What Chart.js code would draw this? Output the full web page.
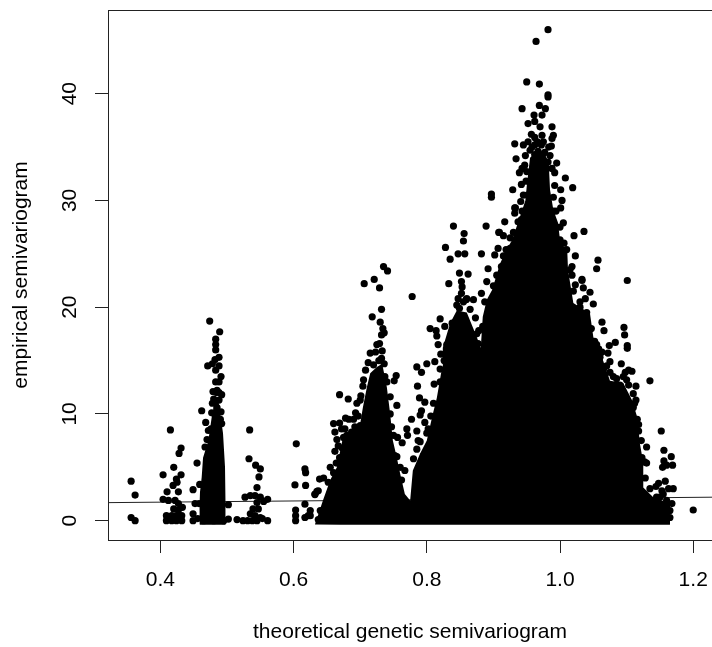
<!DOCTYPE html>
<html>
<head>
<meta charset="utf-8">
<title>semivariogram</title>
<script src="https://cdn.jsdelivr.net/npm/chart.js@4/dist/chart.umd.min.js"></script>
<style>
    html, body { margin: 0; padding: 0; background: #fff; }
    canvas { display: block; }
</style>
</head>
<body>
<canvas id="myChart" width="712" height="647"></canvas>
<script>
const xTicks = [0.4, 0.6, 0.8, 1.0, 1.2];
const yTicks = [0, 10, 20, 30, 40];
const xLabel = 'theoretical genetic semivariogram';
const yLabel = 'empirical semivariogram';

// fitted line, read at both ends of the frame
const lineX = [0.3213, 1.2282];
const lineY = [1.69, 2.2];

// the points overlap into solid black here, so these are read as upper outlines
const hillOutline = [[0.632,-0.35],[0.644,1.9],[0.655,3.8],[0.665,5.0],[0.674,7.8],[0.689,8.5],[0.700,9.1],[0.704,10.6],[0.710,12.5],[0.715,13.8],[0.725,14.4],[0.733,14.7],[0.740,12.5],[0.745,10.0],[0.749,7.5],[0.755,5.9],[0.760,4.4],[0.767,2.5],[0.775,1.9],[0.779,4.7],[0.790,6.3],[0.800,7.5],[0.809,10.0],[0.815,11.5],[0.823,14.4],[0.824,16.2],[0.835,18.5],[0.845,19.7],[0.860,19.5],[0.875,17.2],[0.881,16.2],[0.884,19.1],[0.890,20.7],[0.898,21.6],[0.910,24.1],[0.920,25.4],[0.928,26.3],[0.940,28.5],[0.948,30.0],[0.950,31.3],[0.955,34.0],[0.965,34.6],[0.975,34.6],[0.983,33.6],[0.985,31.0],[0.990,29.1],[0.997,27.9],[1.000,26.3],[1.011,25.1],[1.012,23.5],[1.020,20.4],[1.045,19.4],[1.050,17.2],[1.063,15.3],[1.075,13.1],[1.095,12.9],[1.108,11.3],[1.116,9.7],[1.120,7.2],[1.125,5.4],[1.125,3.1],[1.140,2.2],[1.165,1.6],[1.170,0.3],[1.165,-0.35]];
const spikeOutline = [[0.459,-0.35],[0.458,1.9],[0.462,4.1],[0.464,5.9],[0.472,7.5],[0.477,9.7],[0.482,11.3],[0.487,11.3],[0.494,8.2],[0.497,5.0],[0.498,1.9],[0.498,-0.35]];

const farLeftPts = [[0.356,3.7],[0.362,2.4],[0.356,0.3],[0.362,0.0],[0.415,8.5],[0.431,6.8],[0.428,6.3],[0.420,5.0],[0.404,4.3],[0.431,4.3],[0.424,3.9],[0.419,3.3],[0.425,3.6],[0.410,2.7],[0.427,2.7],[0.404,2.0],[0.412,1.9],[0.422,1.9],[0.427,1.6],[0.433,1.25],[0.409,0.47],[0.409,0.0],[0.417,0.47],[0.417,0.0],[0.424,0.47],[0.424,0.0],[0.432,0.47],[0.432,0.0],[0.420,1.1],[0.427,1.0]];
const spikePts = [[0.474,18.7],[0.489,17.7],[0.483,17.0],[0.483,16.5],[0.483,16.0],[0.488,15.3],[0.482,15.1],[0.488,14.5],[0.471,14.5],[0.478,14.7],[0.483,14.1],[0.491,13.5],[0.488,13.0],[0.479,12.1],[0.485,12.2],[0.492,11.8],[0.480,11.4],[0.488,11.3],[0.462,10.3],[0.491,10.2],[0.477,10.1],[0.485,10.6],[0.468,9.2],[0.492,9.1],[0.472,8.45],[0.455,5.4],[0.449,2.9],[0.452,1.6],[0.458,1.6],[0.449,0.65],[0.449,0.0],[0.502,1.5],[0.502,0.15],[0.459,3.4],[0.467,6.9],[0.456,0.2],[0.465,0.0],[0.480,0.0],[0.495,0.0],[0.483,13.0],[0.484,12.0],[0.478,11.0],[0.488,12.0],[0.490,9.5],[0.476,8.6],[0.470,7.6]];
const midLeftPts = [[0.534,8.5],[0.533,5.8],[0.543,5.2],[0.550,4.85],[0.548,4.1],[0.545,3.1],[0.527,2.2],[0.535,2.35],[0.542,2.35],[0.550,2.2],[0.561,2.0],[0.555,1.8],[0.545,1.7],[0.539,1.1],[0.547,1.1],[0.535,0.65],[0.542,0.47],[0.550,0.3],[0.515,0.1],[0.524,0.0],[0.531,0.0],[0.538,0.0],[0.545,0.0],[0.553,0.2],[0.561,0.0],[0.604,7.2],[0.617,4.85],[0.618,4.5],[0.602,3.35],[0.618,3.3],[0.639,3.9],[0.635,2.75],[0.632,2.45],[0.617,1.55],[0.603,1.0],[0.603,0.47],[0.603,0.0],[0.625,0.95],[0.622,0.47],[0.617,0.3],[0.637,0.1],[0.640,0.95]];
const hillLeftPts = [[0.645,4.0],[0.637,2.8],[0.632,2.5],[0.625,0.47],[0.669,11.8],[0.682,11.4],[0.660,9.1],[0.669,9.15],[0.662,8.3],[0.683,9.5],[0.693,10.1],[0.677,8.6],[0.687,8.3],[0.675,7.8],[0.667,7.0],[0.700,8.9],[0.669,5.9],[0.664,5.4],[0.660,4.5],[0.652,3.6],[0.685,7.2],[0.680,6.3],[0.701,11.7],[0.704,12.6],[0.700,11.3],[0.708,14.1],[0.720,14.6],[0.715,15.7],[0.723,15.8],[0.733,15.9],[0.729,16.6],[0.732,17.4],[0.736,17.6],[0.734,18.0],[0.730,18.6],[0.718,19.1],[0.732,19.8],[0.706,22.2],[0.721,22.6],[0.729,21.8],[0.735,23.8],[0.741,23.4],[0.736,14.7],[0.732,15.2],[0.754,13.6],[0.751,13.1],[0.755,10.8],[0.745,11.6],[0.737,13.5],[0.747,8.8],[0.756,7.8],[0.763,7.3],[0.752,6.1],[0.767,4.7],[0.655,5.0],[0.662,6.5],[0.672,8.6],[0.678,9.6],[0.690,9.5],[0.665,7.6],[0.673,6.8],[0.680,8.0],[0.692,8.8],[0.697,9.8],[0.695,11.0],[0.705,13.2],[0.712,14.8],[0.728,15.0],[0.725,16.5],[0.740,13.0],[0.745,10.0],[0.750,8.0],[0.755,6.0],[0.760,5.0],[0.762,3.8]];
const valleyPts = [[0.778,21.0],[0.785,14.4],[0.792,13.9],[0.800,14.7],[0.812,14.9],[0.786,12.6],[0.811,12.8],[0.789,11.5],[0.797,11.1],[0.777,9.5],[0.792,10.3],[0.790,9.9],[0.797,9.2],[0.770,8.6],[0.771,8.0],[0.785,8.4],[0.787,7.5],[0.802,8.6],[0.785,6.7],[0.795,6.1],[0.805,18.0],[0.814,17.8],[0.820,18.9],[0.827,18.2],[0.815,17.3],[0.817,16.5],[0.821,15.6],[0.832,15.0],[0.820,14.2],[0.780,5.8],[0.790,7.4],[0.800,8.2],[0.806,9.8],[0.810,11.0],[0.820,13.0],[0.826,15.0],[0.830,16.5],[0.838,18.5]];
const shoulderPts = [[0.840,27.6],[0.889,27.6],[0.917,28.0],[0.856,26.9],[0.855,26.2],[0.828,25.6],[0.908,27.0],[0.915,26.7],[0.847,25.0],[0.857,25.0],[0.882,25.0],[0.835,24.5],[0.907,25.5],[0.919,25.4],[0.902,24.9],[0.849,23.2],[0.862,23.1],[0.892,23.6],[0.833,22.2],[0.852,22.4],[0.890,22.4],[0.882,21.3],[0.860,20.8],[0.870,20.7],[0.847,20.8],[0.887,20.5],[0.873,19.0],[0.875,17.5],[0.877,16.6],[0.895,19.9],[0.932,29.3],[0.932,28.8],[0.853,21.9],[0.852,21.3],[0.859,20.7],[0.849,19.9],[0.912,23.8],[0.922,23.3],[0.909,27.0],[0.925,26.5],[0.845,20.2],[0.855,20.5],[0.865,19.8],[0.878,17.8],[0.884,18.2],[0.900,22.0],[0.905,23.0],[0.915,24.8],[0.925,25.5],[0.930,27.0],[0.937,28.0],[0.943,29.0],[0.951,30.5]];
const topPts = [[0.982,46.0],[0.964,44.9],[0.950,41.1],[0.969,40.9],[0.982,39.9],[0.982,39.7],[0.943,38.6],[0.969,38.9],[0.978,38.6],[0.961,38.0],[0.973,38.0],[0.952,37.2],[0.962,37.4],[0.970,36.9],[0.988,36.9],[0.990,36.1],[0.988,35.8],[0.962,35.9],[0.973,36.1],[0.932,35.3],[0.945,35.2],[0.952,35.5],[0.987,35.1],[0.962,35.2],[0.972,35.2],[0.955,34.7],[0.967,34.6],[0.977,34.5],[0.962,34.3],[0.934,33.9],[0.995,33.5],[0.947,33.3],[0.982,33.6],[0.970,33.5],[0.939,32.6],[0.992,32.6],[0.980,33.0],[0.950,32.7],[1.008,32.1],[1.019,31.2],[0.942,31.5],[0.949,31.8],[0.929,31.0],[0.992,31.4],[1.001,31.0],[0.897,30.6],[0.897,30.3],[1.003,30.0],[0.941,29.9],[0.990,30.3],[0.933,29.3],[1.001,29.3],[0.990,29.0],[0.942,28.2],[1.005,27.9],[0.957,36.2],[0.966,35.5],[0.958,35.0],[0.975,35.5],[0.983,35.0],[0.985,34.2],[0.948,34.2],[0.943,33.0],[0.988,33.0],[0.945,30.5],[0.994,29.0],[1.000,27.5],[1.006,26.0]];
const rightPts = [[1.036,27.1],[1.021,26.7],[1.000,26.3],[1.010,25.4],[1.023,24.8],[1.057,24.4],[1.055,23.6],[1.018,23.8],[1.018,23.0],[1.033,22.6],[1.101,22.5],[1.033,22.5],[1.023,22.1],[1.045,21.4],[1.035,21.8],[1.038,20.8],[1.030,20.5],[1.050,20.3],[1.063,18.6],[1.066,17.8],[1.096,18.1],[1.097,17.4],[1.101,16.4],[1.101,16.15],[1.083,16.7],[1.074,16.4],[1.052,16.8],[1.058,16.1],[1.072,15.7],[1.060,15.3],[1.075,14.9],[1.092,14.7],[1.066,14.3],[1.075,13.9],[1.103,14.1],[1.098,13.9],[1.108,14.0],[1.085,13.3],[1.135,13.1],[1.095,13.5],[1.114,12.6],[1.078,12.5],[1.090,12.7],[1.103,12.7],[1.110,11.9],[1.114,11.3],[1.075,11.9],[1.073,10.8],[1.083,11.1],[1.110,10.6],[1.116,9.5],[1.118,8.4],[1.152,8.4],[1.130,6.9],[1.156,6.6],[1.167,6.0],[1.156,5.6],[1.169,5.2],[1.154,5.0],[1.160,5.2],[1.130,5.4],[1.123,5.9],[1.158,3.7],[1.148,3.5],[1.144,3.2],[1.170,3.0],[1.163,3.0],[1.153,2.8],[1.155,2.5],[1.168,1.6],[1.160,1.9],[1.145,2.2],[1.145,1.25],[1.165,0.95],[1.160,1.25],[1.165,0.3],[1.200,1.0],[1.015,23.5],[1.020,21.5],[1.030,20.0],[1.040,19.5],[1.047,18.0],[1.055,16.5],[1.063,15.8],[1.070,14.5],[1.080,13.5],[1.100,13.2],[1.112,11.0],[1.118,9.0],[1.122,7.5],[1.127,5.5],[1.128,4.0],[1.135,3.0],[1.150,2.2]];

const allPts = [].concat(farLeftPts, spikePts, midLeftPts, hillLeftPts, valleyPts, shoulderPts, topPts, rightPts);

function toXY(pts) {
    return pts.map(function(p) { return { x: p[0], y: p[1] }; });
}

// box round the plot, R style
const framePlugin = {
    id: 'frame',
    afterDatasetsDraw: function(chart) {
        const a = chart.chartArea;
        const c = chart.ctx;
        c.save();
        c.strokeStyle = '#222';
        c.lineWidth = 1;
        c.strokeRect(a.left + 0.5, a.top + 0.5, a.right - a.left, a.bottom - a.top);
        c.restore();
    }
};

const tickFont = { family: '"Liberation Sans", Arial, sans-serif', size: 21 };

new Chart(document.getElementById('myChart'), {
    type: 'scatter',
    data: {
        datasets: [
            {
                data: toXY(allPts),
                backgroundColor: '#000',
                borderWidth: 0,
                pointRadius: 3.6,
                order: 1
            },
            {
                data: toXY(hillOutline),
                showLine: true,
                borderWidth: 0,
                backgroundColor: '#000',
                fill: { value: -0.35 },
                pointRadius: 0,
                order: 2
            },
            {
                data: toXY(spikeOutline),
                showLine: true,
                borderWidth: 0,
                backgroundColor: '#000',
                fill: { value: -0.35 },
                pointRadius: 0,
                order: 3
            },
            {
                // goes under the black mass
                data: [{ x: lineX[0], y: lineY[0] }, { x: lineX[1], y: lineY[1] }],
                showLine: true,
                borderColor: '#222',
                borderWidth: 1,
                pointRadius: 0,
                order: 4
            }
        ]
    },
    options: {
        responsive: false,
        animation: false,
        layout: { autoPadding: false, padding: { top: 10, right: 0, left: 0, bottom: 0 } },
        plugins: { legend: { display: false }, tooltip: { enabled: false } },
        scales: {
            x: {
                type: 'linear',
                min: 0.3213,
                max: 1.2282,
                afterBuildTicks: function(scale) {
                    scale.ticks = xTicks.map(function(v) { return { value: v }; });
                },
                afterFit: function(scale) {
                    scale.height = 107;
                    scale.paddingLeft = 0;
                    scale.paddingRight = 0;
                },
                grid: { drawOnChartArea: false, tickLength: 13, color: '#222' },
                border: { color: '#222' },
                ticks: {
                    color: '#000',
                    font: tickFont,
                    padding: 15,
                    maxRotation: 0,
                    callback: function(v) { return v.toFixed(1); }
                },
                title: { display: true, text: xLabel, color: '#000', font: tickFont, padding: { top: 0, bottom: 2 } }
            },
            y: {
                min: -1.81,
                max: 47.84,
                afterBuildTicks: function(scale) {
                    scale.ticks = yTicks.map(function(v) { return { value: v }; });
                },
                afterFit: function(scale) {
                    scale.width = 108;
                    scale.paddingTop = 0;
                    scale.paddingBottom = 0;
                },
                grid: { drawOnChartArea: false, tickLength: 13, color: '#222' },
                border: { color: '#222' },
                ticks: {
                    color: '#000',
                    font: tickFont,
                    padding: 13,
                    crossAlign: 'center',
                    minRotation: 90,
                    maxRotation: 90,
                    callback: function(v) { return String(v); }
                },
                title: { display: true, text: yLabel, color: '#000', font: tickFont, padding: { top: 9, bottom: 0 } }
            }
        }
    },
    plugins: [framePlugin]
});
</script>
</body>
</html>
